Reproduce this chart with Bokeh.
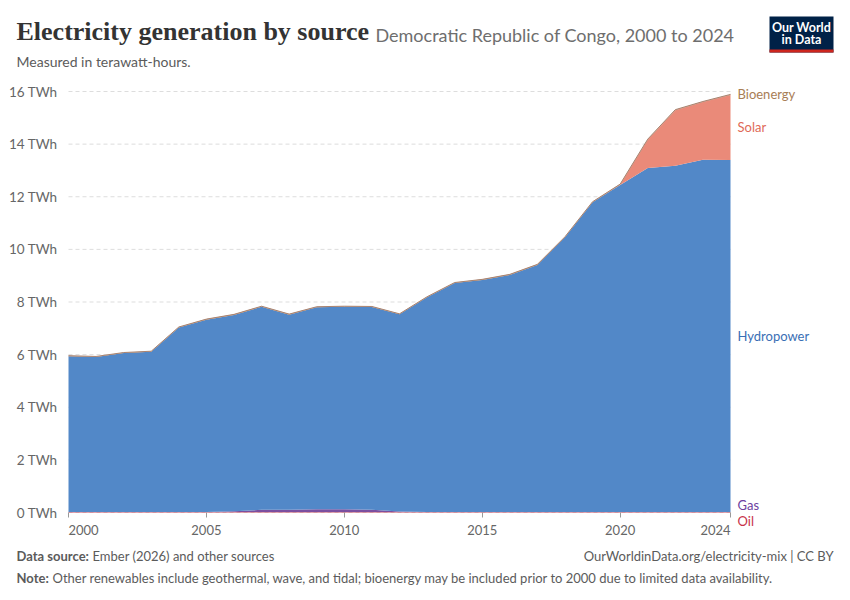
from bokeh.plotting import figure
from bokeh.models import ColumnDataSource, Range1d, FixedTicker, Label, BoxAnnotation, PrintfTickFormatter
from bokeh.embed import file_html
from bokeh.resources import INLINE

years = list(range(2000, 2025))
oil = [0.02] * 25
gas = [0, 0, 0, 0, 0, 0, 0.03, 0.08, 0.08, 0.10, 0.10, 0.08, 0.02,
       0, 0, 0, 0, 0, 0, 0, 0, 0, 0, 0, 0]
hydro = [5.92, 5.89, 6.04, 6.09, 7.01, 7.31, 7.46, 7.72, 7.42, 7.68, 7.70, 7.71, 7.49,
         8.16, 8.70, 8.82, 9.01, 9.39, 10.44, 11.77, 12.43, 13.07, 13.16, 13.39, 13.38]
solar = [0] * 20 + [0.01, 1.08, 2.11, 2.19, 2.47]
bio = [0.02] * 25

series_names = ["Oil", "Gas", "Hydropower", "Solar", "Bioenergy"]
fill_colors = ["#c54863", "#7b4fa0", "#5288c8", "#ea8a79", "#b48a6e"]
label_colors = ["#c8334a", "#6c3fa0", "#3a6fb5", "#e06a58", "#a87d55"]
y_ticks = [0, 2, 4, 6, 8, 10, 12, 14, 16]
x_ticks = [2000, 2005, 2010, 2015, 2020, 2024]

source = ColumnDataSource(dict(year=years, Oil=oil, Gas=gas, Hydropower=hydro,
                               Solar=solar, Bioenergy=bio))

# page geometry (pixels) and where the data area sits on it
W, H = 850, 600
PL, PR, PT, PB = 68, 730, 91, 512
x0, x1 = x_ticks[0], x_ticks[-1]
y0, y1 = y_ticks[0], y_ticks[-1]
kx = (PR - PL) / (x1 - x0)
ky = (PB - PT) / (y1 - y0)

p = figure(width=W, height=H, min_border=0, title=None,
           x_range=Range1d(x0 - PL / kx, x1 + (W - PR) / kx),
           y_range=Range1d(y0 - (H - PB) / ky, y1 + PT / ky),
           output_backend="svg", toolbar_location=None)
p.outline_line_color = None
p.xgrid.visible = False
p.ygrid.visible = False

# dashed horizontal gridlines over the data span
p.segment(x0=[x0] * len(y_ticks), x1=[x1] * len(y_ticks), y0=y_ticks, y1=y_ticks,
          line_color="#dddddd", line_dash="4 3", line_width=1)

p.varea_stack(stackers=series_names, x="year", color=fill_colors, source=source)
tops = [o + g + h + s + b for o, g, h, s, b in zip(oil, gas, hydro, solar, bio)]
p.line(years, tops, line_color="#a98370", line_width=1)

# axes drawn at fixed locations inside the page
p.yaxis.fixed_location = x0
p.yaxis.ticker = FixedTicker(ticks=y_ticks)
p.yaxis.formatter = PrintfTickFormatter(format="%d TWh")
p.yaxis.axis_line_color = None
p.yaxis.major_tick_line_color = None
p.yaxis.minor_tick_line_color = None
p.yaxis.major_label_text_font = "Lato"
p.yaxis.major_label_text_font_size = "13.5px"
p.yaxis.major_label_text_color = "#666666"
p.yaxis.major_label_standoff = 5

NB = "\u00a0" * 9
p.xaxis.fixed_location = y0
p.xaxis.ticker = FixedTicker(ticks=x_ticks)
p.xaxis.major_label_overrides = {x0: NB + str(x0), x1: str(x1) + NB}
p.xaxis.axis_line_color = None
p.xaxis.minor_tick_line_color = None
p.xaxis.major_tick_line_color = "#999999"
p.xaxis.major_tick_in = 0
p.xaxis.major_tick_out = 5
p.xaxis.major_label_text_font = "Lato"
p.xaxis.major_label_text_font_size = "13px"
p.xaxis.major_label_text_color = "#666666"
p.xaxis.major_label_standoff = 4


def txt(text, wx, wy, size, color, font="Lato", style="normal", align="left"):
    p.add_layout(Label(x=wx, y=H - wy, x_units="screen", y_units="screen", text=text,
                       text_font=font, text_font_size=size, text_color=color,
                       text_font_style=style, text_align=align, text_baseline="middle"))


# right-hand series labels
last = len(years) - 1
hydro_top = oil[last] + gas[last] + hydro[last]
label_y = {
    "Bioenergy": tops[last],
    "Solar": hydro_top + solar[last] / 2,
    "Hydropower": hydro_top / 2,
    "Gas": 0.30,
    "Oil": -0.34,
}
for name, col in zip(series_names, label_colors):
    p.add_layout(Label(x=years[last], y=label_y[name], x_offset=7, text=name,
                       text_font="Lato", text_font_size="13px", text_color=col,
                       text_align="left", text_baseline="middle"))

# header
txt("Electricity generation by source", 16, 31, "26px", "#333333",
    font="Liberation Serif", style="bold")
txt("Democratic Republic of Congo, 2000 to 2024", 375, 34, "18px", "#6e6e6e")
txt("Measured in terawatt-hours.", 16, 61, "14px", "#5b5b5b")

# logo
p.add_layout(BoxAnnotation(left=769, right=833, top=H - 16, bottom=H - 52,
                           left_units="screen", right_units="screen",
                           top_units="screen", bottom_units="screen",
                           fill_color="#002147", fill_alpha=1, line_color=None))
p.add_layout(BoxAnnotation(left=769, right=833, top=H - 49, bottom=H - 52,
                           left_units="screen", right_units="screen",
                           top_units="screen", bottom_units="screen",
                           fill_color="#ce261e", fill_alpha=1, line_color=None))
txt("Our World", 801, 27, "12.5px", "white", style="bold", align="center")
txt("in Data", 801, 39, "12.5px", "white", style="bold", align="center")

# footer
txt("Data source:", 16, 555, "13px", "#5b5b5b", style="bold")
txt("Ember (2026) and other sources", 92, 555, "13px", "#5b5b5b")
txt("OurWorldinData.org/electricity-mix | CC BY", 833, 555, "13px", "#5b5b5b", align="right")
txt("Note:", 16, 577, "13px", "#5b5b5b", style="bold")
txt("Other renewables include geothermal, wave, and tidal; bioenergy may be included prior to 2000 due to limited data availability.",
    52, 577, "13px", "#5b5b5b")

open("out.html", "w").write(file_html(p, INLINE))
